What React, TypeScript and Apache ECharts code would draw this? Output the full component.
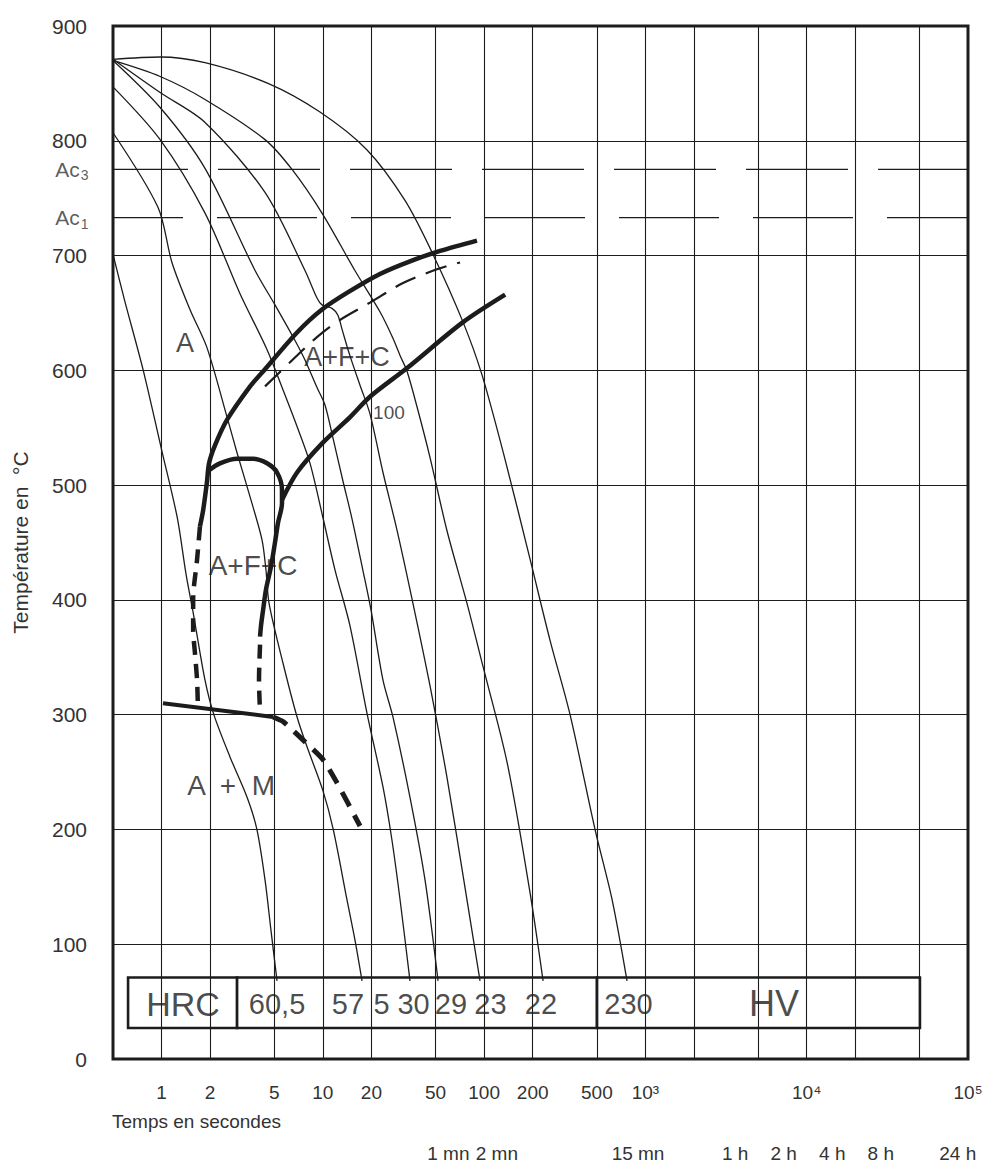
import React, { useEffect, useRef } from "react";
import * as echarts from "echarts";

const lg = (t: number) => Math.log10(t);

// ---- axes ----
const TIME_MIN = 0.5;
const TIME_MAX = 100000;
const TEMP_MIN = 0;
const TEMP_MAX = 900;
const gridTimes = [1, 2, 5, 10, 20, 50, 100, 200, 500, 1000, 2000, 5000, 10000, 20000, 50000];
const secTicks = [1, 2, 5, 10, 20, 50, 100, 200, 500, 1000, 10000, 100000];
const secTickLabels = ["1", "2", "5", "10", "20", "50", "100", "200", "500", "10³", "10⁴", "10⁵"];
const durTicks = [60, 120, 900, 3600, 7200, 14400, 28800, 86400];
const durTickLabels = ["1 mn", "2 mn", "15 mn", "1 h", "2 h", "4 h", "8 h", "24 h"];

// ---- critical temperatures (°C) ----
const AC3 = 775;
const AC1 = 733;

// ---- cooling curves [time s, temperature °C] ----
const cooling1 = [[0.5, 701], [0.59, 661], [0.77, 600], [1.0, 531], [1.25, 472], [1.42, 422], [1.57, 389], [1.86, 330], [2.11, 300], [2.66, 263], [3.39, 228], [3.9, 200], [4.38, 156], [4.77, 112], [5.2, 68]];
const cooling2 = [[0.5, 807], [0.95, 742], [1.16, 694], [1.5, 653], [1.91, 620], [2.55, 559], [2.94, 528], [3.69, 481], [4.2, 452], [4.44, 426], [4.64, 397], [5.66, 345], [6.92, 298], [7.98, 272], [10.0, 234], [11.6, 200], [14.1, 139], [15.8, 104], [17.5, 68]];
const cooling3 = [[0.5, 847], [0.98, 801], [1.86, 737], [3.06, 667], [4.51, 618], [5.66, 583], [6.92, 551], [8.33, 519], [10.0, 472], [11.9, 426], [14.7, 378], [18.8, 301], [23.6, 237], [26.8, 191], [30.1, 139], [34.7, 68]];
const cooling4 = [[0.5, 870], [0.98, 829], [1.86, 776], [3.8, 687], [5.05, 657], [6.72, 626], [7.75, 609], [9.2, 585], [10.3, 570], [11.6, 540], [13.3, 504], [15.2, 470], [17.7, 426], [19.9, 391], [23.6, 330], [27.2, 298], [34.7, 228], [43, 156], [51.8, 68]];
const cooling5 = [[0.5, 871], [0.98, 842], [1.86, 816], [4.38, 755], [7.75, 687], [9.2, 663], [9.88, 657], [11.4, 654], [12.4, 648], [13.2, 635], [14.7, 613], [17, 587], [19.6, 562], [23.6, 511], [28.8, 461], [36.2, 397], [46.2, 325], [58.9, 245], [74, 160], [94.3, 68]];
const cooling6 = [[0.5, 870], [0.98, 856], [1.86, 836], [4.38, 801], [6.44, 775], [9.88, 737], [15.8, 687], [22.6, 651], [27.2, 628], [30.1, 613], [33.3, 599], [38.9, 565], [46.2, 524], [58.9, 460], [78.3, 397], [98.4, 342], [139, 258], [193, 144], [232, 68]];
const cooling7 = [[0.5, 871], [0.98, 873], [1.86, 868], [4.57, 850], [9.6, 825], [18.8, 792], [32.3, 748], [48.2, 701], [74, 642], [97, 596], [135, 522], [193, 435], [256, 365], [341, 300], [487, 200], [621, 139], [769, 68]];

// ---- transformation lines ----
const ferriteStart = [[1.73, 464], [1.81, 478], [1.91, 502], [1.97, 519], [2.15, 535], [2.55, 557], [3.54, 586], [4.26, 599], [6.92, 633], [9.88, 653], [14.7, 669], [22.6, 684], [34.7, 695], [53.3, 704], [90.3, 713]];
const ferriteStartLow = [[1.73, 464], [1.66, 435], [1.57, 400], [1.57, 374], [1.61, 354], [1.66, 330], [1.68, 306]];
const bainiteNose = [[1.97, 513], [2.3, 519], [2.94, 523], [3.69, 523], [4.51, 519], [5.2, 511], [5.58, 496], [5.58, 484], [5.27, 467], [5.05, 450], [4.77, 429], [4.44, 409], [4.26, 391], [4.14, 378], [4.08, 368]];
const bainiteNoseLow = [[4.08, 361], [4.02, 330], [4.08, 302]];
const ferrite1 = [[4.38, 586], [6.26, 607], [9.2, 629], [12.8, 644], [19.6, 659], [31.4, 676], [51, 688], [70.9, 694]];
const transf100 = [[5.58, 487], [6.92, 511], [10, 537], [14.7, 559], [19.6, 577], [33.3, 602], [74, 642], [135, 666]];
const msLine = [[1.02, 310], [4.91, 298]];
const msLineLow = [[4.91, 298], [5.66, 294], [7.53, 278], [10, 261], [12.2, 241], [17, 203]];

// ---- region labels ----
const regionLabels = ["A", "A+F+C", "100", "A+F+C", "A  +  M"];
const regionTimes = [1.4, 14.1, 25.7, 3.69, 2.7];
const regionTemps = [624, 612, 563, 430, 238];
const regionSizes = [27, 27, 19, 28, 28];

// ---- hardness table ----
const tableCellTimes = [[0.62, 2.94], [2.94, 501], [501, 50350]];
const tableTemps = [71, 27];
const hardnessText = ["HRC", "60,5", "57", "5", "30", "29", "23", "22", "230", "HV"];
const hardnessTimes = [1.36, 5.2, 14.3, 23.1, 36.5, 62.3, 109.5, 225, 785, 6270];
const hardnessSizes = [34, 29, 29, 29, 29, 29, 29, 29, 29, 36];
const hardnessTemp = 48;

const FONT = "'Liberation Sans', Arial, Helvetica, sans-serif";
const INK = "#1c1c1c";
const TXT = "#333333";

function buildOption(): any {
  const X_MIN = lg(TIME_MIN);
  const X_MAX = lg(TIME_MAX);
  const toXY = (pts: number[][]) => pts.map(([t, T]) => [lg(t), T]);
  const curve = (pts: number[][], width: number, type: any = "solid", smooth = 0.3) => ({
    type: "line",
    data: toXY(pts),
    symbol: "none",
    showSymbol: false,
    smooth,
    silent: true,
    z: 4,
    lineStyle: { color: INK, width, type, cap: "butt" },
  });
  const labelOf = (ticks: number[], labels: string[]) => (v: number) => {
    const i = ticks.findIndex((t) => Math.abs(lg(t) - v) < 1e-6);
    return i >= 0 ? labels[i] : "";
  };

  return {
    animation: false,
    backgroundColor: "#ffffff",
    textStyle: { fontFamily: FONT },
    grid: {
      left: 113,
      top: 26,
      width: 855,
      height: 1033,
      show: true,
      borderColor: INK,
      borderWidth: 3,
      backgroundColor: "transparent",
    },
    xAxis: [
      {
        type: "value",
        min: X_MIN,
        max: X_MAX,
        axisLine: { show: false },
        axisTick: { show: false },
        splitLine: { show: false },
        axisLabel: {
          customValues: secTicks.map(lg),
          formatter: labelOf(secTicks, secTickLabels),
          fontSize: 19,
          color: TXT,
          margin: 24,
          fontFamily: FONT,
        },
      },
      {
        type: "value",
        min: X_MIN,
        max: X_MAX,
        position: "bottom",
        axisLine: { show: false },
        axisTick: { show: false },
        splitLine: { show: false },
        axisLabel: {
          customValues: durTicks.map(lg),
          formatter: labelOf(durTicks, durTickLabels),
          fontSize: 19,
          color: TXT,
          margin: 85,
          fontFamily: FONT,
        },
      },
    ],
    yAxis: {
      type: "value",
      min: TEMP_MIN,
      max: TEMP_MAX,
      interval: 100,
      name: "Température en  °C",
      nameLocation: "middle",
      nameRotate: 90,
      nameGap: 82,
      nameTextStyle: { fontSize: 21, color: TXT, fontFamily: FONT },
      axisLine: { show: false },
      axisTick: { show: false },
      axisLabel: { fontSize: 21, color: TXT, margin: 26, fontFamily: FONT },
      splitLine: { show: true, lineStyle: { color: INK, width: 1.1 } },
    },
    graphic: [
      {
        type: "text",
        left: 112,
        top: 1112,
        style: { text: "Temps en secondes", fontSize: 19, fill: TXT, fontFamily: FONT },
      },
    ],
    series: [
      // vertical grid lines
      {
        type: "line",
        data: [],
        symbol: "none",
        silent: true,
        z: 1,
        markLine: {
          silent: true,
          symbol: ["none", "none"],
          label: { show: false },
          lineStyle: { color: INK, width: 1.1, type: "solid" },
          data: gridTimes.map((t) => ({ xAxis: lg(t) })),
        },
      },
      // Ac3 / Ac1 long-dash lines
      {
        type: "line",
        data: [[X_MIN, AC3], [X_MAX, AC3]],
        symbol: "none",
        silent: true,
        z: 2,
        lineStyle: { color: INK, width: 1.3, type: [102, 30], dashOffset: 27 },
      },
      {
        type: "line",
        data: [[X_MIN, AC1], [X_MAX, AC1]],
        symbol: "none",
        silent: true,
        z: 2,
        lineStyle: { color: INK, width: 1.3, type: [100, 34], dashOffset: 30 },
      },
      // cooling curves
      curve(cooling1, 1.3),
      curve(cooling2, 1.3),
      curve(cooling3, 1.3),
      curve(cooling4, 1.3),
      curve(cooling5, 1.3),
      curve(cooling6, 1.3),
      curve(cooling7, 1.3),
      // transformation curves
      curve(ferriteStart, 4.5),
      curve(ferriteStartLow, 4.5, [14, 9]),
      curve(bainiteNose, 4.5),
      curve(bainiteNoseLow, 4.5, [14, 9]),
      curve(ferrite1, 2.2, [22, 11]),
      curve(transf100, 4.5),
      curve(msLine, 4, "solid", 0),
      curve(msLineLow, 5, [16, 10], 0.2),
      // Ac labels
      {
        type: "scatter",
        data: [[X_MIN, AC3, "3"], [X_MIN, AC1, "1"]],
        symbolSize: 1,
        itemStyle: { color: "rgba(0,0,0,0)" },
        silent: true,
        z: 10,
        label: {
          show: true,
          position: "left",
          distance: 24,
          formatter: (p: any) => `{a|Ac}{s|${p.value[2]}}`,
          rich: {
            a: { fontSize: 21, color: TXT, fontFamily: FONT },
            s: { fontSize: 14, color: TXT, fontFamily: FONT, padding: [12, 0, 0, 1] },
          },
        },
      },
      // region labels
      {
        type: "scatter",
        data: regionLabels.map((s, i) => ({
          value: [lg(regionTimes[i]), regionTemps[i]],
          label: { formatter: s, fontSize: regionSizes[i] },
        })),
        symbolSize: 1,
        itemStyle: { color: "rgba(0,0,0,0)" },
        silent: true,
        z: 10,
        label: { show: true, position: "inside", color: INK, fontFamily: FONT },
      },
      // hardness table
      {
        type: "scatter",
        data: hardnessText.map((s, i) => ({
          value: [lg(hardnessTimes[i]), hardnessTemp],
          label: { formatter: s, fontSize: hardnessSizes[i] },
        })),
        symbolSize: 1,
        itemStyle: { color: "rgba(0,0,0,0)" },
        silent: true,
        z: 12,
        label: { show: true, position: "inside", color: INK, fontFamily: FONT },
        markArea: {
          silent: true,
          itemStyle: { color: "#ffffff", borderColor: INK, borderWidth: 2.6 },
          label: { show: false },
          data: tableCellTimes.map(([a, b]) => [
            { xAxis: lg(a), yAxis: tableTemps[0] },
            { xAxis: lg(b), yAxis: tableTemps[1] },
          ]),
        },
      },
    ],
  };
}

export default function App() {
  const ref = useRef<HTMLDivElement>(null);
  useEffect(() => {
    document.body.style.margin = "0";
    if (!ref.current) return;
    const chart = echarts.init(ref.current, undefined, { renderer: "svg" });
    chart.setOption(buildOption());
    return () => chart.dispose();
  }, []);
  return <div ref={ref} style={{ width: 994, height: 1168, background: "#fff" }} />;
}
